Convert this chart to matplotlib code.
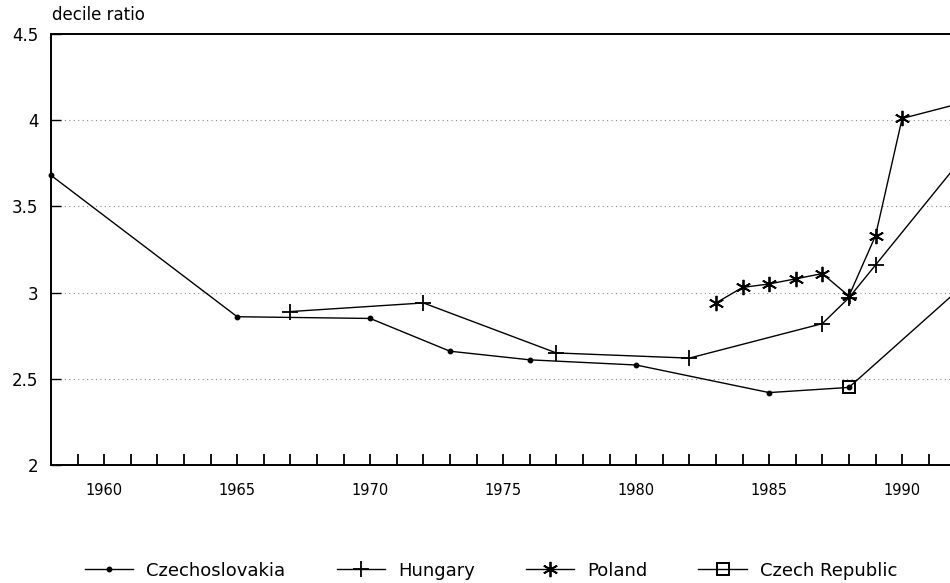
import matplotlib
matplotlib.use("Agg")
import matplotlib.pyplot as plt
import numpy as np

# values (decile ratio P90/P10)
czs_years = [1958, 1965, 1970, 1973, 1976, 1980, 1985, 1988]
czs_vals = [3.68, 2.86, 2.85, 2.66, 2.61, 2.58, 2.42, 2.45]

hun_years = [1967, 1972, 1977, 1982, 1987, 1988, 1989, 1992]
hun_vals = [2.89, 2.94, 2.65, 2.62, 2.82, 2.97, 3.16, 3.73]

pol_years = [1983, 1984, 1985, 1986, 1987, 1988, 1989, 1990, 1992]
pol_vals = [2.94, 3.03, 3.05, 3.08, 3.11, 2.98, 3.33, 4.01, 4.09]

cze_years = [1988, 1992]
cze_vals = [2.45, 3.00]

yticks = [2, 2.5, 3, 3.5, 4, 4.5]
ytick_labels = ["2", "2.5", "3", "3.5", "4", "4.5"]
xlabel_years = [1960, 1965, 1970, 1975, 1980, 1985, 1990]
grid_levels = [2.5, 3, 3.5, 4]

plt.rcParams['font.family'] = ['DejaVu Sans']

fig = plt.figure(figsize=(9.5, 5.83), dpi=100)
ax = fig.add_axes([0.0537, 0.2024, 0.9463, 0.7393])

# broken dotted grid of the original
for g in grid_levels:
    ax.axhline(g, color='0.55', lw=0.8, ls=(0, (1, 3)), zorder=1)

asterisk = (6, 2, 0)
# the last point of each series lies just past the right edge: no marker there
ax.plot(czs_years, czs_vals, color='k', lw=1.0, marker='o', ms=3.2,
        label='Czechoslovakia', zorder=3, clip_on=False)
ax.plot(hun_years, hun_vals, color='k', lw=1.0, marker='+', ms=11, mew=1.3,
        markevery=list(range(len(hun_years) - 1)), label='Hungary', zorder=3)
ax.plot(pol_years, pol_vals, color='k', lw=1.0, marker=asterisk, ms=11, mew=1.3,
        markevery=list(range(len(pol_years) - 1)), label='Poland', zorder=4)
ax.plot(cze_years, cze_vals, color='k', lw=1.0, marker='s', ms=8, mfc='none',
        mec='k', mew=1.4, markevery=[0], label='Czech Republic', zorder=2)

ax.set_xlim(1958, 1991.8)
ax.set_ylim(2, 4.5)

ax.set_xticks(xlabel_years)
ax.set_xticklabels([str(y) for y in xlabel_years], fontsize=10.5)
ax.set_xticks(np.arange(1959, 1992), minor=True)
ax.tick_params(axis='x', which='both', direction='in', length=8, width=1.3,
               pad=13, color='k')
ax.set_yticks(yticks)
ax.set_yticklabels(ytick_labels, fontsize=12)
ax.tick_params(axis='y', direction='in', length=7, width=1.0, pad=9, color='k')

for s in ['left', 'bottom', 'top']:
    ax.spines[s].set_linewidth(1.4)
    ax.spines[s].set_color('k')
ax.spines['right'].set_visible(False)

fig.text(0.055, 0.974, 'decile ratio', fontsize=12, ha='left', va='center')

fig.legend(loc='center', bbox_to_anchor=(0.517, 0.021), ncol=4, frameon=False,
           fontsize=13, handlelength=2.67, handletextpad=0.72, columnspacing=2.83,
           borderpad=0, borderaxespad=0)

fig.savefig('out.png', dpi=100)
